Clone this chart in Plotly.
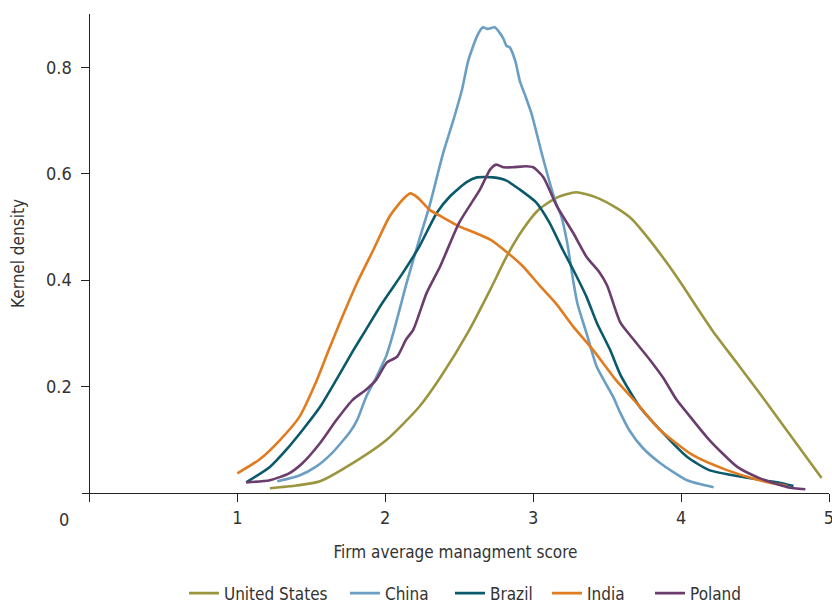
import plotly.graph_objects as go

# Kernel density estimates of firm average management score, by country
us_x = [1.22, 1.40, 1.56, 1.78, 2.01, 2.23, 2.37, 2.57, 2.71, 2.82, 2.93, 3.04, 3.16, 3.29, 3.43, 3.56, 3.67, 3.78, 3.90, 4.01, 4.13, 4.21, 4.37, 4.53, 4.74, 4.95]
us_y = [0.009, 0.014, 0.022, 0.056, 0.100, 0.162, 0.216, 0.307, 0.382, 0.444, 0.495, 0.533, 0.555, 0.565, 0.555, 0.536, 0.514, 0.478, 0.434, 0.390, 0.339, 0.306, 0.247, 0.188, 0.108, 0.028]

china_x = [1.27, 1.42, 1.53, 1.64, 1.76, 1.81, 1.87, 1.94, 2.01, 2.06, 2.14, 2.23, 2.30, 2.39, 2.46, 2.52, 2.56, 2.62, 2.66, 2.69, 2.74, 2.77, 2.80, 2.82, 2.84, 2.88, 2.91, 2.95, 2.99, 3.02, 3.06, 3.11, 3.15, 3.19, 3.23, 3.27, 3.30, 3.36, 3.43, 3.54, 3.59, 3.65, 3.74, 3.86, 4.04, 4.22]
china_y = [0.022, 0.033, 0.049, 0.075, 0.114, 0.137, 0.180, 0.218, 0.260, 0.306, 0.390, 0.476, 0.540, 0.637, 0.700, 0.759, 0.811, 0.858, 0.875, 0.872, 0.875, 0.866, 0.853, 0.840, 0.838, 0.811, 0.774, 0.744, 0.712, 0.680, 0.636, 0.585, 0.548, 0.520, 0.470, 0.400, 0.355, 0.301, 0.237, 0.181, 0.150, 0.118, 0.085, 0.056, 0.024, 0.011]

brazil_x = [1.06, 1.22, 1.33, 1.44, 1.56, 1.67, 1.78, 1.87, 1.98, 2.12, 2.23, 2.35, 2.44, 2.55, 2.62, 2.73, 2.82, 2.91, 3.02, 3.11, 3.20, 3.27, 3.36, 3.43, 3.52, 3.59, 3.72, 3.86, 4.04, 4.19, 4.42, 4.65, 4.76]
brazil_y = [0.020, 0.049, 0.081, 0.118, 0.162, 0.213, 0.266, 0.307, 0.357, 0.414, 0.463, 0.527, 0.558, 0.584, 0.593, 0.593, 0.587, 0.570, 0.546, 0.508, 0.457, 0.420, 0.369, 0.320, 0.269, 0.222, 0.162, 0.118, 0.068, 0.043, 0.030, 0.020, 0.013]

india_x = [1.00, 1.15, 1.29, 1.42, 1.53, 1.62, 1.71, 1.81, 1.92, 2.03, 2.12, 2.17, 2.22, 2.30, 2.37, 2.50, 2.59, 2.71, 2.82, 2.93, 3.04, 3.16, 3.27, 3.41, 3.56, 3.70, 3.86, 4.08, 4.31, 4.53, 4.72]
india_y = [0.037, 0.063, 0.100, 0.143, 0.207, 0.270, 0.331, 0.395, 0.457, 0.520, 0.552, 0.563, 0.555, 0.532, 0.521, 0.501, 0.491, 0.476, 0.453, 0.426, 0.391, 0.354, 0.313, 0.267, 0.212, 0.169, 0.118, 0.071, 0.043, 0.024, 0.013]

poland_x = [1.06, 1.22, 1.35, 1.44, 1.56, 1.67, 1.78, 1.87, 1.94, 2.01, 2.08, 2.14, 2.19, 2.28, 2.37, 2.50, 2.64, 2.71, 2.75, 2.80, 2.86, 2.95, 3.00, 3.07, 3.16, 3.27, 3.36, 3.45, 3.50, 3.59, 3.68, 3.79, 3.88, 3.97, 4.08, 4.19, 4.38, 4.53, 4.72, 4.84]
poland_y = [0.020, 0.024, 0.037, 0.056, 0.094, 0.137, 0.175, 0.194, 0.213, 0.245, 0.256, 0.288, 0.307, 0.376, 0.425, 0.508, 0.570, 0.608, 0.617, 0.612, 0.612, 0.614, 0.612, 0.593, 0.539, 0.489, 0.444, 0.414, 0.390, 0.320, 0.288, 0.250, 0.216, 0.175, 0.137, 0.100, 0.049, 0.028, 0.011, 0.007]

series = [
    ("United States", us_x, us_y, "#9c953f"),
    ("China", china_x, china_y, "#6a9ec2"),
    ("Brazil", brazil_x, brazil_y, "#0b5a6c"),
    ("India", india_x, india_y, "#e07b1f"),
    ("Poland", poland_x, poland_y, "#6b3d6d"),
]

x_ticks = [0, 1, 2, 3, 4, 5]
y_ticks = [0.2, 0.4, 0.6, 0.8]

# horizontal anchor of each legend entry, in paper units
legend_x = [0.1365, 0.352, 0.4926, 0.6225, 0.7604]

FONT = "Liberation Sans Narrow, DejaVu Sans Condensed, Roboto, sans-serif"

fig = go.Figure()
legend_layout = {}
for i, (name, xs, ys, color) in enumerate(series):
    key = "legend" if i == 0 else f"legend{i + 1}"
    fig.add_trace(go.Scatter(
        x=xs, y=ys, name=name, mode="lines", legend=key,
        line=dict(color=color, width=2.6, shape="spline", smoothing=0.6),
    ))
    legend_layout[key] = dict(
        orientation="h", x=legend_x[i], xanchor="left", y=-0.21, yanchor="middle",
        font=dict(size=17, color="#333333"), bgcolor="rgba(0,0,0,0)",
    )

x_min, x_max = -0.05, 5
fig.update_layout(
    width=832, height=605,
    margin=dict(l=82, r=3, t=14, b=112, autoexpand=False),
    paper_bgcolor="white", plot_bgcolor="white",
    font=dict(family=FONT, size=17, color="#333333"),
    showlegend=True,
    xaxis=dict(
        range=[x_min, x_max], tickvals=x_ticks,
        ticktext=["" if t == 0 else str(t) for t in x_ticks],
        ticks="outside", ticklen=8, tickwidth=1.2, tickcolor="#222",
        ticklabeloverflow="allow", tickfont=dict(size=18),
        showline=True, linecolor="#222", linewidth=1.2,
        showgrid=False, zeroline=False,
        title=dict(text="Firm average managment score", font=dict(size=17), standoff=19),
    ),
    yaxis=dict(
        range=[0, 0.9], tickvals=y_ticks, ticktext=[f"{v:.1f}" for v in y_ticks],
        anchor="free", position=(0 - x_min) / (x_max - x_min),
        ticks="outside", ticklen=8, tickwidth=1.2, tickcolor="#222",
        ticklabelstandoff=6, tickfont=dict(size=18),
        showline=True, linecolor="#222", linewidth=1.2,
        showgrid=False, zeroline=False,
        title=dict(text="Kernel density", font=dict(size=17), standoff=15),
    ),
    **legend_layout,
)

# origin label sits below-left of the axes corner
fig.add_annotation(text="0", xref="paper", yref="paper", x=-0.0235, y=-0.055,
                   showarrow=False, xanchor="center", yanchor="middle",
                   font=dict(size=18, color="#333333"))

fig.write_html("out.html")
